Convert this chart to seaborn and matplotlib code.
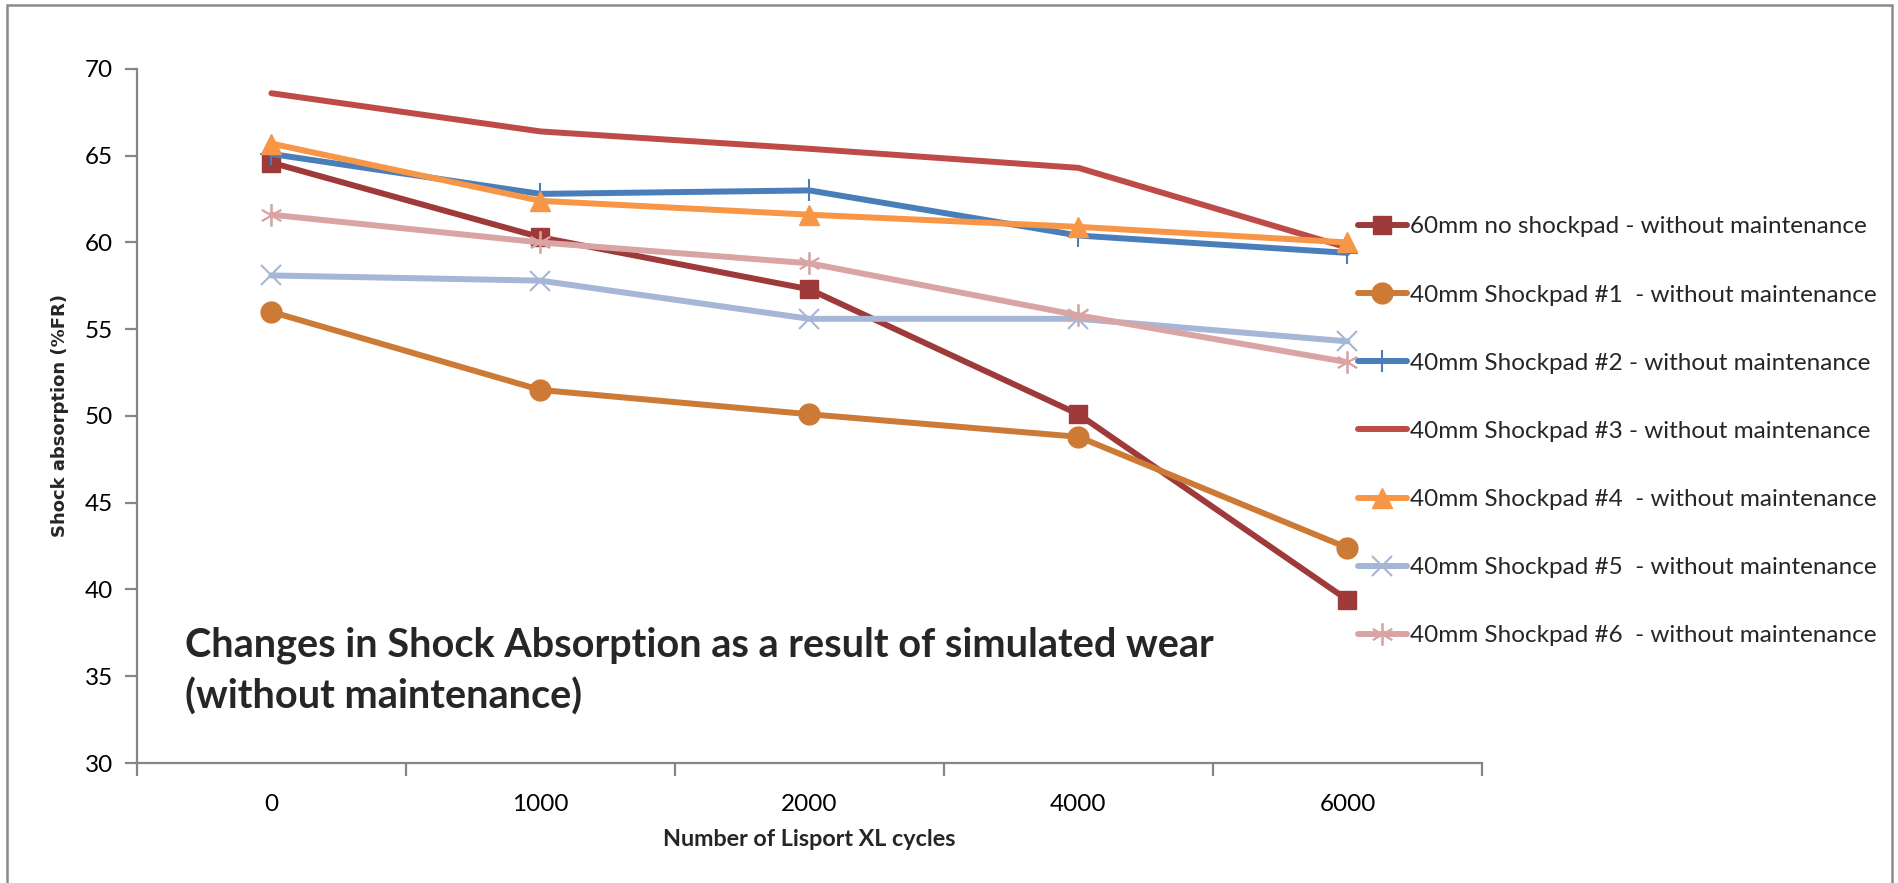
import matplotlib
matplotlib.use("Agg")
import matplotlib.pyplot as plt
import matplotlib.font_manager as fm
from matplotlib.patches import Rectangle
import seaborn as sns
import pandas as pd

# Wear cycles (categorical x axis)
cycles = ["0", "1000", "2000", "4000", "6000"]

# Shock absorption (%FR) per surface
no_shockpad_60mm = [64.6, 60.3, 57.3, 50.1, 39.4]
shockpad_1 = [56.0, 51.5, 50.1, 48.8, 42.4]
shockpad_2 = [65.1, 62.8, 63.0, 60.4, 59.4]
shockpad_3 = [68.6, 66.4, 65.4, 64.3, 59.7]
shockpad_4 = [65.7, 62.4, 61.6, 60.9, 60.0]
shockpad_5 = [58.1, 57.8, 55.6, 55.6, 54.3]
shockpad_6 = [61.6, 60.0, 58.8, 55.8, 53.1]

series_names = [
    "60mm no shockpad - without maintenance",
    "40mm Shockpad #1  - without maintenance",
    "40mm Shockpad #2 - without maintenance",
    "40mm Shockpad #3 - without maintenance",
    "40mm Shockpad #4  - without maintenance",
    "40mm Shockpad #5  - without maintenance",
    "40mm Shockpad #6  - without maintenance",
]
series_values = [no_shockpad_60mm, shockpad_1, shockpad_2, shockpad_3,
                 shockpad_4, shockpad_5, shockpad_6]

y_ticks = [30, 35, 40, 45, 50, 55, 60, 65, 70]

title_text = ("Changes in Shock Absorption as a result of simulated wear\n"
              "(without maintenance)")
x_label = "Number of Lisport XL cycles"
y_label = "Shock absorption (%FR)"

# Line styles
colors = ["#9E3B3A", "#CC7A35", "#4A7EBB", "#BE4B48", "#F79646", "#A5B6D6", "#D8A5A4"]
markers = ["s", "o", "+", None, "^", "x", (6, 2, 0)]
msizes = [13.5, 15, 16, 0, 15, 15, 16]
mews = [1, 1, 1.5, 1, 1, 1.5, 1.3]

sns.set_theme(style="white")
installed = {f.name for f in fm.fontManager.ttflist}
base_font = "Lato" if "Lato" in installed else "DejaVu Sans"
plt.rcParams["font.family"] = [base_font, "DejaVu Sans"]

fig = plt.figure(figsize=(18.99, 8.83), dpi=100)
ax = fig.add_axes([0.0721, 0.1359, 0.7083, 0.7860])

for name, vals, col, mk, ms, mew in zip(series_names, series_values, colors,
                                         markers, msizes, mews):
    df = pd.DataFrame({"cycles": cycles, "value": vals})
    kw = dict(marker=mk, markersize=ms, markeredgewidth=mew,
              markeredgecolor=col, markerfacecolor=col) if mk is not None else {}
    sns.lineplot(data=df, x="cycles", y="value", ax=ax, color=col,
                 linewidth=4.3, sort=False, label=name, **kw)

leg = ax.get_legend()
if leg is not None:
    leg.remove()

ax.set_xlim(-0.5, len(cycles) - 0.5)
ax.set_ylim(30, 70)
ax.set_yticks(y_ticks)
ax.set_xticks(range(len(cycles)))
ax.set_xticklabels(cycles)
ax.set_xticks([i - 0.5 for i in range(len(cycles) + 1)], minor=True)

axis_gray = "#868686"
for side in ["top", "right"]:
    ax.spines[side].set_visible(False)
for side in ["left", "bottom"]:
    ax.spines[side].set_color(axis_gray)
    ax.spines[side].set_linewidth(1.6)

ax.tick_params(axis="x", which="major", length=0, pad=22, labelsize=17.5,
               labelcolor="black")
ax.tick_params(axis="x", which="minor", length=9, width=1.6, color=axis_gray,
               direction="out", bottom=True)
ax.tick_params(axis="y", which="major", length=9, width=1.6, color=axis_gray,
               direction="out", left=True, pad=8, labelsize=17.5,
               labelcolor="black")
ax.grid(False)

ax.set_xlabel(x_label, fontsize=16.8, fontweight="bold", labelpad=10.5)
ax.set_ylabel(y_label, fontsize=13, fontweight="bold", labelpad=11.5,
              family="DejaVu Sans")

fig.text(0.0975, 0.240, title_text, fontsize=28.5, fontweight="bold",
         ha="left", va="center", linespacing=1.46)

handles, labels = ax.get_legend_handles_labels()
fig.legend(handles, labels, loc="upper left",
           bbox_to_anchor=(0.7151, 0.755), frameon=False, fontsize=17.5,
           handlelength=2.0, handletextpad=0.15, labelspacing=1.94,
           borderpad=0, borderaxespad=0)

# Chart-area border
fig.patches.append(Rectangle((7 / 1899, -0.05), (1892 - 7) / 1899,
                             1 - 5 / 883 + 0.05, transform=fig.transFigure,
                             fill=False, edgecolor="#8A8A8A", linewidth=1.8))

fig.savefig("out.png", dpi=100)
